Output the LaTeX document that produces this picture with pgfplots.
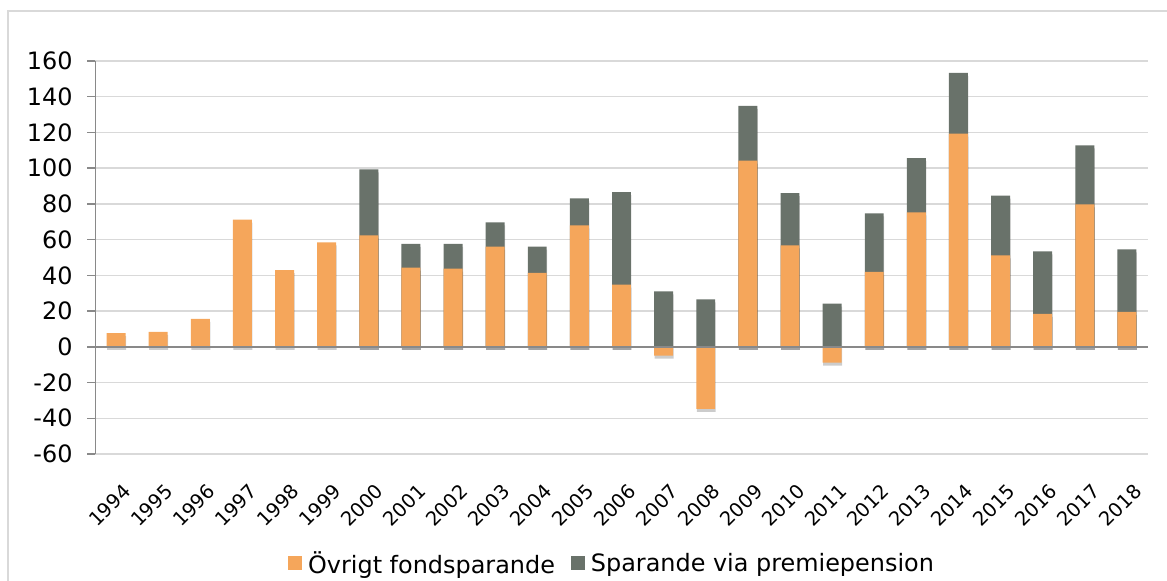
\documentclass[border=0pt]{standalone}
\usepackage{fontspec}
\setmainfont{DejaVu Sans}
\usepackage{pgfplots}
\usepackage{pgfplotstable}
\pgfplotsset{compat=1.18}
\usetikzlibrary{shadows}
\definecolor{orangebar}{HTML}{F5A65B}
\definecolor{greybar}{HTML}{69726A}
\definecolor{gridgray}{HTML}{D9D9D9}
\definecolor{axisgray}{HTML}{898989}
\definecolor{framegray}{HTML}{D9D9D9}

% idx year ovrigt (orange segment)
\pgfplotstableread{
idx year ovrigt
0  1994 7.6
1  1995 8.4
2  1996 15.6
3  1997 71.2
4  1998 42.9
5  1999 58.5
6  2000 62.4
7  2001 44.3
8  2002 43.8
9  2003 56.1
10 2004 41.4
11 2005 68.0
12 2006 34.8
13 2007 -4.9
14 2008 -34.8
15 2009 104.3
16 2010 56.8
17 2011 -8.8
18 2012 41.9
19 2013 75.3
20 2014 119.4
21 2015 51.2
22 2016 18.4
23 2017 79.7
24 2018 19.6
}\orangedata

% idx year top of the premiepension segment
\pgfplotstableread{
idx year top
6  2000 99.3
7  2001 57.6
8  2002 57.6
9  2003 69.7
10 2004 56.1
11 2005 83.1
12 2006 86.6
13 2007 31.1
14 2008 26.6
15 2009 134.9
16 2010 86.0
17 2011 24.2
18 2012 74.7
19 2013 105.6
20 2014 153.3
21 2015 84.6
22 2016 53.5
23 2017 112.7
24 2018 54.6
}\greydata

\begin{document}
\begin{tikzpicture}[x=1bp,y=1bp]
\useasboundingbox (0,0) rectangle (1167,-581);
\draw[framegray, line width=1.5bp] (8,-581) -- (8,-11) -- (1167,-11);
\begin{axis}[
  at={(95bp,-454bp)}, anchor=south west,
  scale only axis, width=1053bp, height=393bp,
  xmin=-0.5, xmax=24.5, ymin=-60, ymax=160,
  ytick={-60,-40,...,160},
  xtick={0,...,24},
  xticklabels={1994,1995,1996,1997,1998,1999,2000,2001,2002,2003,2004,2005,2006,2007,2008,2009,2010,2011,2012,2013,2014,2015,2016,2017,2018},
  axis line style={draw=none},
  ymajorgrids,
  grid style={gridgray, line width=1.5bp},
  ytick pos=left,
  tick align=outside,
  major tick length=8bp,
  ytick style={axisgray, line width=1.5bp},
  xtick style={draw=none},
  /pgf/number format/assume math mode=true,
  yticklabel style={font=\fontsize{24}{28}\selectfont, text=black, xshift=-11bp},
  xticklabel style={font=\fontsize{19.5}{23}\selectfont, rotate=45, anchor=east, text=black, yshift=-26bp, xshift=-7bp},
  legend columns=2,
  legend style={draw=none, fill=none, at={(0.491,-0.277)}, anchor=center,
    font=\fontsize{24}{28}\selectfont,
    /tikz/every even column/.append style={column sep=14bp},
    /tikz/every odd column/.append style={column sep=4bp},
    nodes={inner sep=2bp}},
  legend image code/.code={\fill[#1] (0bp,-7bp) rectangle (14bp,7bp);},
]
\addlegendimage{fill=orangebar, draw=none}
\addlegendentry{Övrigt fondsparande}
\addlegendimage{fill=greybar, draw=none}
\addlegendentry{Sparande via premiepension}

\addplot[ybar, bar width=0.45, bar shift=0, fill=greybar, draw=none, forget plot,
  drop shadow={shadow xshift=0.5bp, shadow yshift=-3bp, opacity=0.2, fill=black}]
  table[x=idx, y=top] {\greydata};
\addplot[ybar, bar width=0.45, bar shift=0, fill=orangebar, draw=none, forget plot,
  drop shadow={shadow xshift=0.5bp, shadow yshift=-3bp, opacity=0.2, fill=black}]
  table[x=idx, y=ovrigt] {\orangedata};

\draw[axisgray, line width=1.5bp] (axis cs:-0.5,-60) -- (axis cs:-0.5,160);
\draw[axisgray, line width=1.5bp] (axis cs:-0.5,0) -- (axis cs:24.5,0);
\end{axis}
\end{tikzpicture}
\end{document}
